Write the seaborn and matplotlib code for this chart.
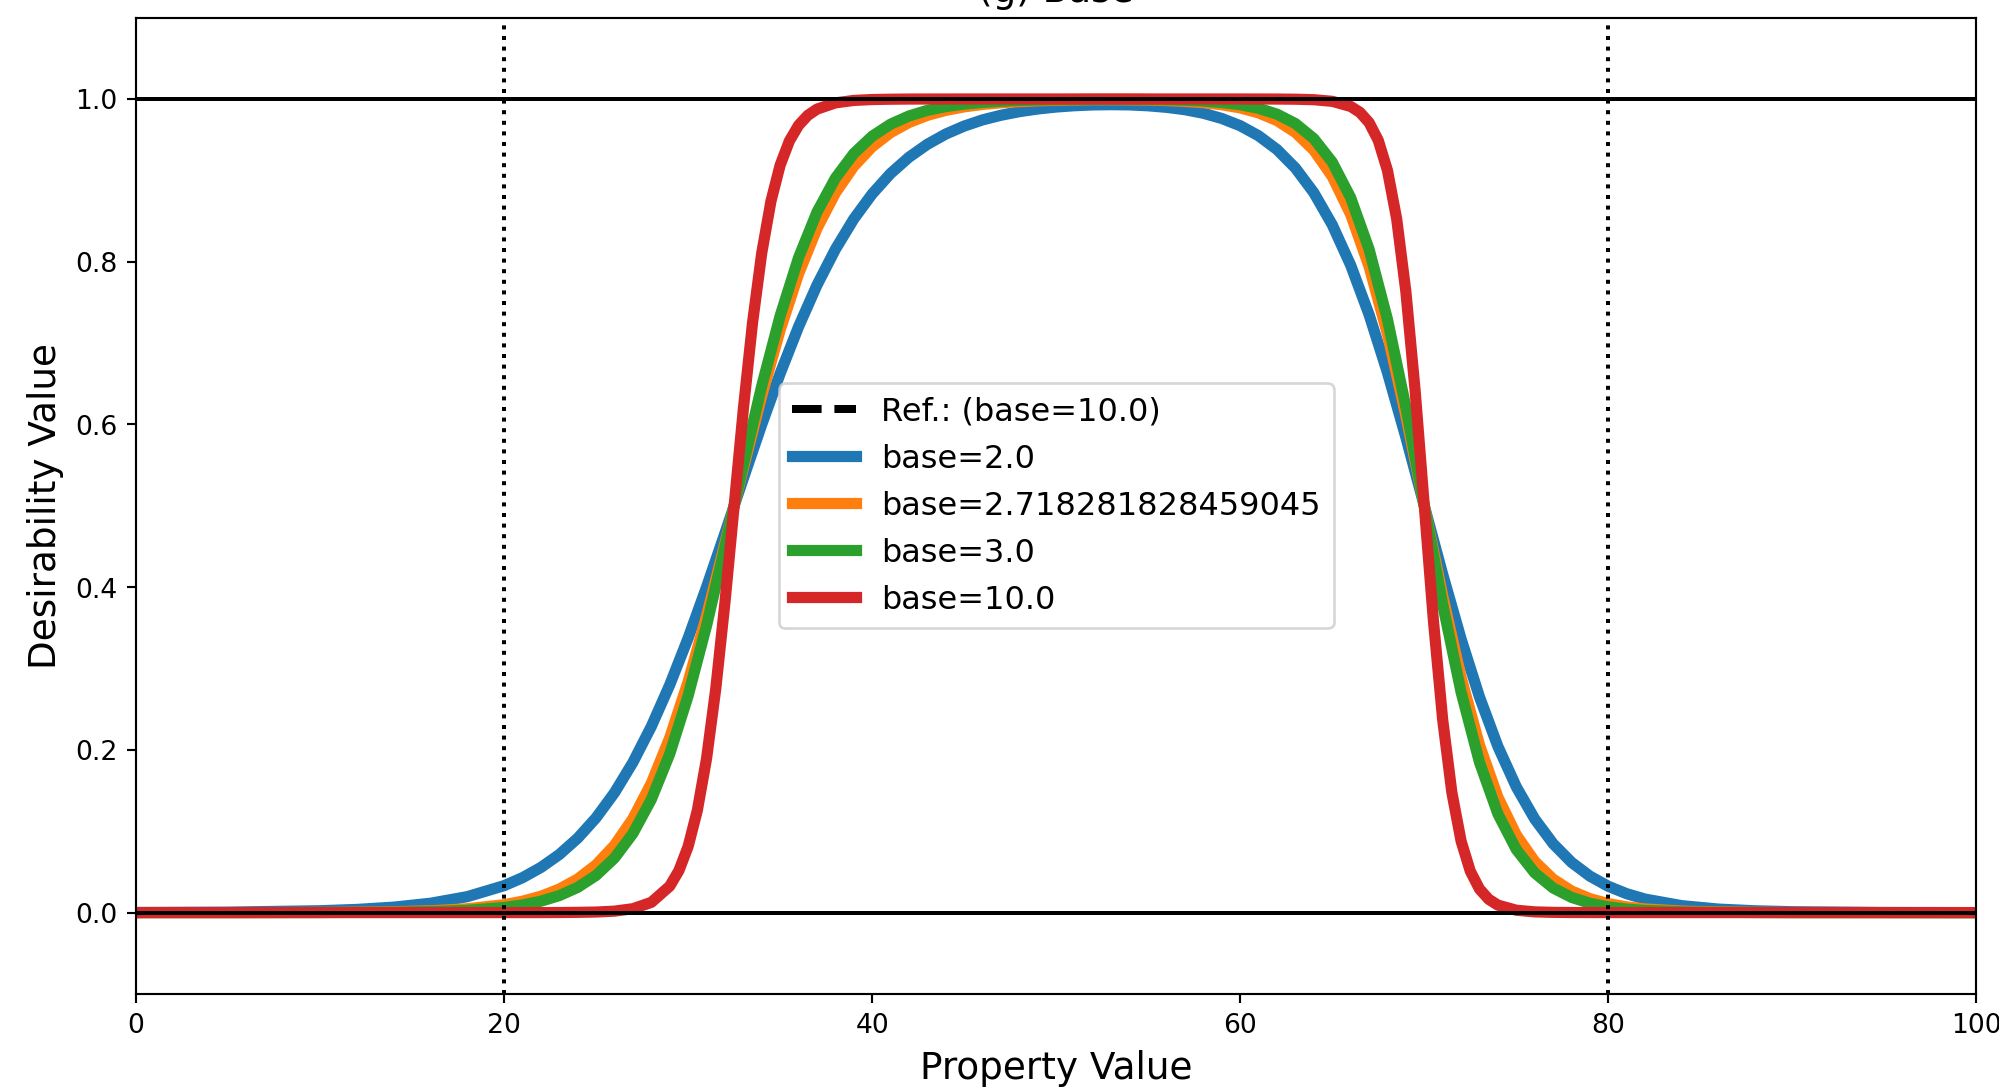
import matplotlib
matplotlib.use("Agg")
import matplotlib.pyplot as plt
import seaborn as sns

# ---------------- data ----------------
x_main = [0, 5, 10, 12, 14, 16, 18,
          20, 21, 22, 23, 24, 25, 26, 27, 28, 29, 30, 31, 32, 33, 34, 35, 36, 37, 38, 39,
          40, 41, 42, 43, 44, 45,
          46, 47, 48, 49, 50, 51, 52, 53, 54, 55, 56, 57,
          58, 59, 60, 61, 62, 63, 64, 65, 66, 67, 68, 69, 70, 71, 72, 73, 74, 75, 76, 77,
          78, 79, 80, 81, 82,
          84, 86, 88, 90, 95, 100]

y_base_2 = [0.0002, 0.0006, 0.0023, 0.0039, 0.0067, 0.0115, 0.0196,
            0.0331, 0.0429, 0.0555, 0.0714, 0.0915, 0.1166, 0.1474, 0.1847, 0.2288, 0.2799,
            0.3374, 0.4001, 0.4663, 0.5337, 0.5999, 0.6626, 0.7201, 0.7712, 0.8152, 0.8525,
            0.8833, 0.9084, 0.9284, 0.9443, 0.9569, 0.9667,
            0.9743, 0.9800, 0.9844, 0.9877, 0.9901, 0.9917, 0.9927, 0.9930, 0.9927, 0.9916,
            0.9897, 0.9868,
            0.9824, 0.9760, 0.9671, 0.9547, 0.9378, 0.9150, 0.8847, 0.8453, 0.7957, 0.7349,
            0.6636, 0.5841, 0.4999, 0.4158, 0.3363, 0.2650, 0.2042, 0.1545, 0.1151, 0.0847,
            0.0618, 0.0448, 0.0323, 0.0232, 0.0166,
            0.0085, 0.0043, 0.0022, 0.0011, 0.0002, 0.0000]

y_base_e = [0.0000, 0.0000, 0.0002, 0.0005, 0.0011, 0.0022, 0.0047,
            0.0097, 0.0140, 0.0201, 0.0289, 0.0413, 0.0587, 0.0828, 0.1156, 0.1591, 0.2150,
            0.2839, 0.3647, 0.4539, 0.5461, 0.6353, 0.7161, 0.7850, 0.8409, 0.8844, 0.9172,
            0.9413, 0.9587, 0.9711, 0.9799, 0.9860, 0.9903,
            0.9933, 0.9953, 0.9967, 0.9977, 0.9983, 0.9987, 0.9990, 0.9990, 0.9989, 0.9986,
            0.9980, 0.9970,
            0.9954, 0.9929, 0.9890, 0.9829, 0.9734, 0.9589, 0.9370, 0.9046, 0.8581, 0.7941,
            0.7109, 0.6106, 0.5000, 0.3894, 0.2891, 0.2059, 0.1419, 0.0954, 0.0630, 0.0411,
            0.0266, 0.0171, 0.0110, 0.0070, 0.0045,
            0.0018, 0.0008, 0.0003, 0.0001, 0.0000, 0.0000]

y_base_3 = [0.0000, 0.0000, 0.0001, 0.0003, 0.0006, 0.0013, 0.0028,
            0.0063, 0.0094, 0.0140, 0.0209, 0.0310, 0.0458, 0.0671, 0.0973, 0.1391, 0.1950,
            0.2665, 0.3526, 0.4496, 0.5505, 0.6474, 0.7335, 0.8050, 0.8609, 0.9027, 0.9329,
            0.9542, 0.9690, 0.9791, 0.9860, 0.9906, 0.9937,
            0.9958, 0.9972, 0.9981, 0.9987, 0.9991, 0.9993, 0.9995, 0.9995, 0.9995, 0.9993,
            0.9990, 0.9984,
            0.9974, 0.9957, 0.9930, 0.9885, 0.9813, 0.9697, 0.9512, 0.9224, 0.8787, 0.8153,
            0.7291, 0.6213, 0.5000, 0.3787, 0.2709, 0.1847, 0.1213, 0.0776, 0.0488, 0.0303,
            0.0187, 0.0115, 0.0070, 0.0043, 0.0026,
            0.0010, 0.0004, 0.0001, 0.0000, 0.0000, 0.0000]

x_base_10 = [0, 10, 20, 22, 23, 24, 25, 26, 27, 28, 29, 29.5, 30, 30.5, 31, 31.5, 32, 32.5,
             33, 33.5, 34, 34.5, 35, 35.5, 36, 36.5, 37, 38, 39, 40, 41, 42, 45, 50, 55, 60,
             62, 63, 64, 65, 66, 66.5, 67, 67.5, 68, 68.5, 69, 69.5, 70, 70.5, 71, 71.5, 72,
             72.5, 73, 73.5, 74, 75, 76, 77, 78, 80, 90, 100]
y_base_10 = [0.0, 0.0, 0.0, 0.0, 0.0001, 0.0003, 0.0007, 0.0018, 0.0048, 0.0126, 0.0325,
             0.0517, 0.0813, 0.1256, 0.1892, 0.2749, 0.3811, 0.5000,
             0.6189, 0.7251, 0.8108, 0.8744, 0.9187, 0.9483, 0.9676, 0.9798, 0.9875, 0.9952,
             0.9982, 0.9993, 0.9997, 0.9999, 1.0, 1.0, 1.0, 1.0,
             0.9999, 0.9997, 0.9991, 0.9971, 0.9908, 0.9836, 0.9710, 0.9491, 0.9121, 0.8526,
             0.7631, 0.6422, 0.5000, 0.3578, 0.2369, 0.1474, 0.0879,
             0.0509, 0.0290, 0.0164, 0.0092, 0.0029, 0.0009, 0.0003, 0.0001, 0.0, 0.0, 0.0]

series_labels = ["base=2.0", "base=2.718281828459045", "base=3.0", "base=10.0"]
ref_label = "Ref.: (base=10.0)"
series_colors = ["#1f77b4", "#ff7f0e", "#2ca02c", "#d62728"]
low_mark, high_mark = 20, 80
x_ticks = [0, 20, 40, 60, 80, 100]
y_ticks = [0.0, 0.2, 0.4, 0.6, 0.8, 1.0]
title = "(g) Base"

# ---------------- figure ----------------
DPI = 192
fig = plt.figure(figsize=(1999.4 / DPI, 1092.4 / DPI), dpi=DPI)
ax = fig.add_axes([136 / 1999, 98 / 1092, (1976 - 136) / 1999, (994 - 18) / 1092])

sns.lineplot(x=x_base_10, y=y_base_10, ax=ax, color="black", linestyle="--",
             linewidth=3, label=ref_label, errorbar=None)

series = [(x_main, y_base_2), (x_main, y_base_e), (x_main, y_base_3), (x_base_10, y_base_10)]
for (xs, ys), lab, col in zip(series, series_labels, series_colors):
    sns.lineplot(x=xs, y=ys, ax=ax, color=col, linewidth=4.2, label=lab, errorbar=None)

ax.axhline(0, color="black", linewidth=1.5)
ax.axhline(1, color="black", linewidth=1.5)
ax.axvline(low_mark, color="black", linestyle=":", linewidth=1.5)
ax.axvline(high_mark, color="black", linestyle=":", linewidth=1.5)

ax.set_xlim(0, 100)
ax.set_ylim(-0.1, 1.1)
ax.set_xticks(x_ticks)
ax.set_yticks(y_ticks)
ax.tick_params(labelsize=10)
ax.set_xlabel("Property Value", fontsize=14)
ax.set_ylabel("Desirability Value", fontsize=14)
ax.set_title(title, fontsize=14)
ax.legend(loc="center", fontsize=12)

fig.savefig("out.png", dpi=DPI)
